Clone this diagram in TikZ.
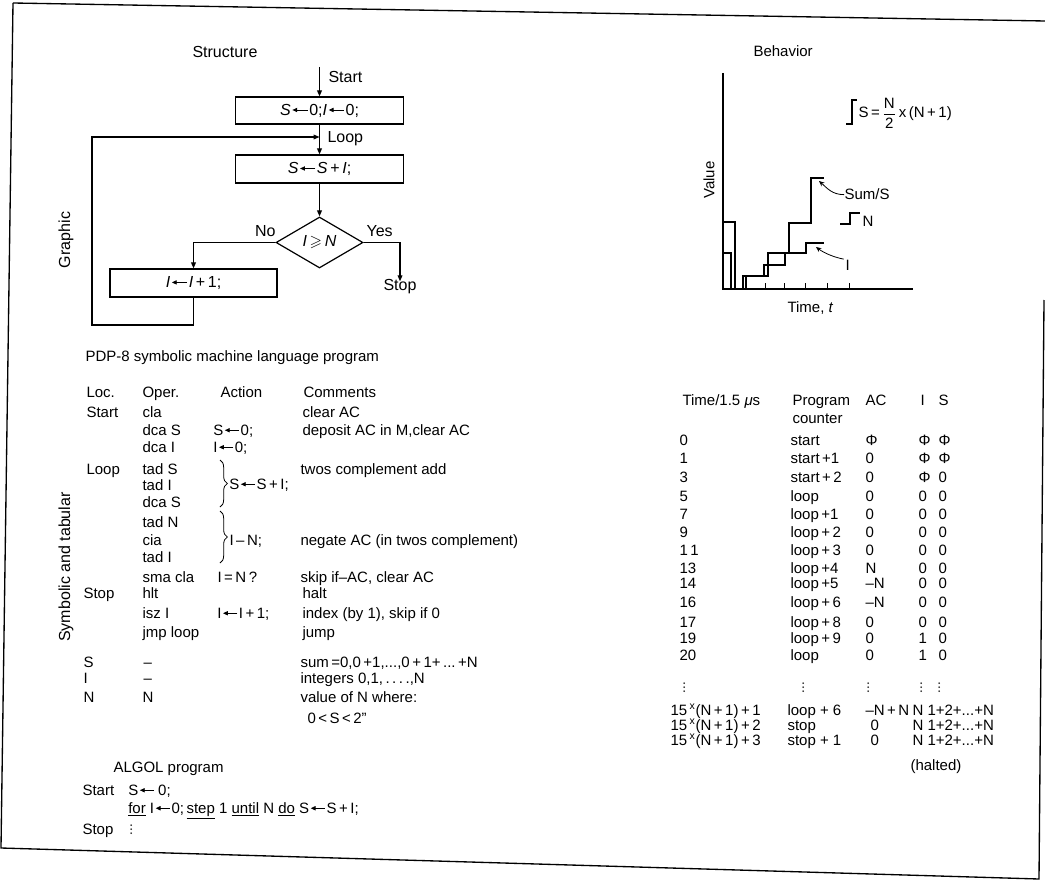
\documentclass[tikz,border=0pt]{standalone}
\usepackage{fontspec}
\setmainfont{Liberation Sans}
\usepackage{amsmath,amssymb}
\usetikzlibrary{shapes.geometric,arrows.meta,decorations.pathreplacing}
\newcommand{\fs}{\fontsize{11.25}{13}\selectfont}
\newcommand{\fb}{\fontsize{12}{14}\selectfont}
\newcommand{\lar}{\hspace{0.08em}\tikz[baseline=-0.6ex]\draw[line width=0.6pt,-{Triangle[length=3.6pt,width=3.2pt]}] (0.95em,0)--(0,0);\hspace{0.08em}}
\newcommand{\vdd}{\tikz[baseline=0pt]{\fill (0,0.6pt) circle (0.65pt); \fill (0,3.6pt) circle (0.65pt); \fill (0,6.6pt) circle (0.65pt);}}
\begin{document}
\begin{tikzpicture}[x=0.75pt,y=-0.75pt,line width=0.8pt,
  t/.style={inner sep=0,anchor=base west,font=\fs},
  tb/.style={inner sep=0,anchor=base west,font=\fb},
  fbox/.style={draw,line width=0.9pt,inner sep=0,font=\fb},
  arr/.style={-{Triangle[length=4.5pt,width=3.6pt]}},
  ann/.style={line width=0.6pt,-{Stealth[length=4pt,width=3.5pt]}},
  sumln/.style={line width=1.7pt},
  iln/.style={line width=1.1pt}]
\useasboundingbox (0,0) rectangle (1045,884);
% frame
\draw[line width=1pt] (13,3) -- (1045,21);
\draw[line width=1pt] (13,3) -- (1,848) -- (1039,879) -- (1044,300);

% ---------------- Flowchart ----------------
\node[tb] (structure) at (192,58) {Structure};
\node[tb,rotate=90,anchor=center] (graphic) at (66,240) {Graphic};
\node[fbox,minimum width=126pt,minimum height=20.25pt] (b1) at (319.5,110.5) {\textit{S}\lar0;\textit{I}\lar0;};
\coordinate (st) at (319.5,67);
\draw[arr] (st) -- (b1.north);
\node[tb] (startlbl) at (328,83) {Start};
\node[fbox,minimum width=126pt,minimum height=21pt] (b2) at (319.5,169) {\textit{S}\lar\textit{S}\,+\,\textit{I};};
\draw[arr] (b1.south) -- (b2.north);
\node[tb] (looplbl) at (327,143) {Loop};
\node[draw,diamond,aspect=1.7,line width=0.9pt,inner sep=0,minimum width=65.25pt,minimum height=38.25pt,font=\fb] (d) at (319.5,242.5) {\textit{I}\,$\geqslant$\,\textit{N}};
\draw[arr] (b2.south) -- (d.north);
\node[fbox,minimum width=125.25pt,minimum height=21pt] (b3) at (193.5,283) {\textit{I}\lar\textit{I}\,+\,1;};
\draw[arr] (d.west) -| (b3.north);
\node[tb,anchor=base east] (nolbl) at (276,237) {No};
\node[tb] (yeslbl) at (366,237) {Yes};
\node[tb,anchor=base] (stop) at (400,291) {Stop};
\draw[arr] (d.east) -| ([yshift=-1.5pt]stop.north);
\coordinate (lb1) at (92,325);
\coordinate (lin) at (319.5,137);
\draw[arr] (b3.south) |- (lb1) |- (lin);

% ---------------- Behavior plot ----------------
\node[t] (behavior) at (753,57) {Behavior};
\coordinate (yax) at (723,73);
\coordinate (org) at (723,289);
\coordinate (xax) at (913,289);
\draw[line width=0.8pt] (yax) -- (org) -- (xax);
\foreach \xx in {765,784,805,827,849} \draw[line width=0.7pt] (\xx,289) -- (\xx,283);
\node[t,rotate=90,anchor=center] (value) at (709,180) {Value};
\node[t] (time) at (787,312) {Time, \textit{t}};
\draw[sumln] (723,222) -- (735,222) -- (735,289);
\draw[iln] (723,253) -- (731,253) -- (731,289);
\draw[sumln] (743,289) -- (743,276) -- (768,276) -- (768,253) -- (789,253) -- (789,223) -- (811,223) -- (811,178) -- (824,178);
\draw[iln] (746,289) -- (746,276) -- (764,276) -- (764,265) -- (785,265) -- (785,253) -- (806,253) -- (806,243) -- (824,243);
\draw[line width=1pt] (846,124) -- (852,124) -- (852,100) -- (857,100);
\node[t] (formula) at (858,118) {S\,=\,$\dfrac{\text{N}}{\text{2}}$\,x\,(N\,+\,1)};
\node[t] (sumlbl) at (844,200) {Sum/S};
\coordinate (sumtip) at (819,181);
\draw[ann] (sumlbl.west) .. controls +(-12,0) and +(8,7) .. (sumtip);
\draw[line width=1pt] (840,224) -- (850,224) -- (850,213) -- (860,213);
\node[t] (nlbl) at (862,227) {N};
\node[t] (ilbl) at (845,270) {I};
\coordinate (itip) at (816,247);
\draw[ann] ([xshift=-1pt]ilbl.north west) .. controls +(-10,-2) and +(8,6) .. (itip);

% ---------------- PDP-8 program ----------------
\node[t] (pdp) at (85,361) {PDP-8 symbolic machine language program};
\node[tb,rotate=90,anchor=center] (symb) at (66,567) {Symbolic and tabular};
\node[t] (hloc) at (86,397) {Loc.};
\node[t] (hop) at (142,397) {Oper.};
\node[t] (hact) at (220,397) {Action};
\node[t] (hcom) at (303,397) {Comments};
\node[t] (l1) at (86,417) {Start};
\node[t] (o1) at (142,417) {cla};
\node[t] (c1) at (302,417) {clear AC};
\node[t] (o2) at (142,435) {dca S};
\node[t] (a2) at (213,435) {S\lar0;};
\node[t] (c2) at (302,435) {deposit AC in M,clear AC};
\node[t] (o3) at (142,452) {dca I};
\node[t] (a3) at (213,452) {I\lar0;};
\node[t] (l4) at (86,474) {Loop};
\node[t] (o4) at (142,474) {tad S};
\node[t] (c4) at (300,474) {twos complement add};
\node[t] (o5) at (142,490) {tad I};
\node[t] (o6) at (142,507) {dca S};
\node[t] (o7) at (142,527) {tad N};
\node[t] (o8) at (142,545) {cia};
\node[t] (c8) at (300,545) {negate AC (in twos complement)};
\node[t] (o9) at (142,562) {tad I};
\node[t] (o10) at (142,582) {sma cla};
\node[t] (a10) at (217,582) {I\,=\,N\,?};
\node[t] (c10) at (300,582) {skip if--AC, clear AC};
\node[t] (l11) at (83,598) {Stop};
\node[t] (o11) at (142,598) {hlt};
\node[t] (c11) at (302,598) {halt};
\node[t] (o12) at (142,618) {isz I};
\node[t] (a12) at (217,618) {I\lar I\,+\,1;};
\node[t] (c12) at (302,618) {index (by 1), skip if 0};
\node[t] (o13) at (142,637) {jmp loop};
\node[t] (c13) at (302,637) {jump};
\node[t] (l14) at (83,667) {S};
\node[t] (o14) at (143,667) {--};
\node[t] (c14) at (300,667) {sum\,=0,0\,+1,...,0\,+\,1+\,...\,+N};
\node[t] (l15) at (83,683) {I};
\node[t] (o15) at (143,683) {--};
\node[t] (c15) at (300,683) {integers 0,1,\,.\,.\,.\,.,N};
\node[t] (l16) at (83,702) {N};
\node[t] (o16) at (142,702) {N};
\node[t] (c16) at (300,702) {value of N where:};
\node[t] (c17) at (307,723) {0\,<\,S\,<\,2"};
\coordinate (br1a) at (220,460); \coordinate (br1b) at (220,507);
\coordinate (br2a) at (220,511); \coordinate (br2b) at (220,563);
\draw[line width=0.6pt,decorate,decoration={brace,amplitude=5.5pt}] (br1a) -- (br1b);
\draw[line width=0.6pt,decorate,decoration={brace,amplitude=5.5pt}] (br2a) -- (br2b);
\node[t] (ab1) at (229,489) {S\lar S\,+\,I;};
\node[t] (ab2) at (229,545) {I\,--\,N;};

% ---------------- ALGOL ----------------
\node[t] (algol) at (113,772) {ALGOL program};
\node[t] (al1) at (82,795) {Start};
\node[t] (al1b) at (128,795) {S\lar\,0;};
\node[t] (al2) at (128,813) {\underline{for} I\lar0;\,\underline{step} 1 \underline{until} N \underline{do} S\lar S\,+\,I;};
\node[t] (al3) at (82,834) {Stop};
\node[t] (al3b) at (130,834) {\vdd};

% ---------------- Trace table ----------------
\node[t] (th1) at (682,405) {Time/1.5 \textit{μ}s};
\node[t] (th2) at (792,405) {Program};
\node[t] (th2b) at (792,423) {counter};
\node[t] (th3) at (865,405) {AC};
\node[t] (th4) at (920,405) {I};
\node[t] (th5) at (938,405) {S};
\foreach \yy/\ta/\tb/\tc/\td/\te [count=\k] in {
  445/0/start/Φ/Φ/Φ,
  463/1/start\,+1/0/Φ/Φ,
  482/3/start\,+\,2/0/Φ/0,
  501/5/loop/0/0/0,
  519/7/loop\,+1/0/0/0,
  537/9/loop\,+\,2/0/0/0,
  555/1\,1/loop\,+\,3/0/0/0,
  573/13/loop\,+4/N/0/0,
  588/14/loop\,+5/--N/0/0,
  607/16/loop\,+\,6/--N/0/0,
  627/17/loop\,+\,8/0/0/0,
  643/19/loop\,+\,9/0/1/0,
  660/20/loop/0/1/0}{
  \node[t] (ta\k) at (679,\yy) {\ta};
  \node[t] (tb\k) at (790,\yy) {\tb};
  \node[t] (tc\k) at (865,\yy) {\tc};
  \node[t] (td\k) at (918,\yy) {\td};
  \node[t] (te\k) at (938,\yy) {\te};
}
\node[t] (dv1) at (683,692) {\vdd};
\node[t] (dv2) at (802,692) {\vdd};
\node[t] (dv3) at (867,692) {\vdd};
\node[t] (dv4) at (920,692) {\vdd};
\node[t] (dv5) at (938,692) {\vdd};
\foreach \yy/\ta/\tb/\tc/\cx [count=\k] in {
  715/1/loop + 6/--N\,+\,N/865,
  730/2/stop/0/870,
  745/3/stop + 1/0/870}{
  \node[t] (tf\k) at (670,\yy) {15\,\textsuperscript{x}(N\,+\,1)\,+\,\ta};
  \node[t] (tg\k) at (787,\yy) {\tb};
  \node[t] (th\k) at (\cx,\yy) {\tc};
  \node[t] (ti\k) at (912,\yy) {N};
  \node[t] (tj\k) at (927,\yy) {1+2+...+N};
}
\node[t] (halted) at (910,770) {(halted)};
\end{tikzpicture}
\end{document}
